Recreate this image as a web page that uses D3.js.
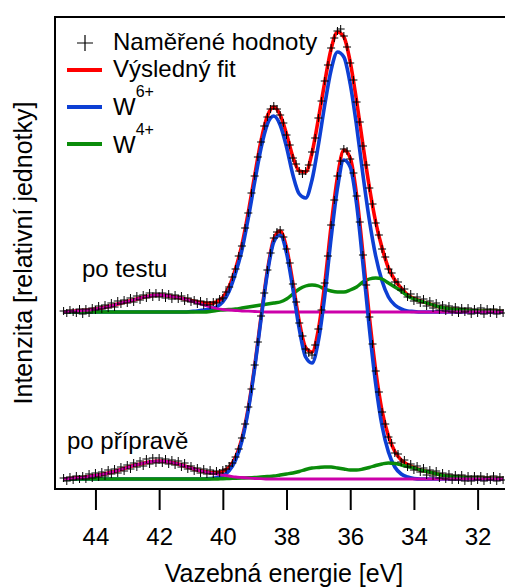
<!DOCTYPE html>
<html><head><meta charset="utf-8">
<script src="https://cdn.jsdelivr.net/npm/d3@7"></script>
<style>
body{margin:0;background:#fff}
svg{display:block}
text{font-family:"Liberation Sans",Arial,sans-serif;fill:#000}
</style>
</head><body>
<svg id="chart" width="505" height="587"></svg>
<script>
// ---------- DATA ----------
// Binding energy grid for the fitted curves (eV)
const lineEnergy = [
 45.0,44.8,44.6,44.4,44.2,44.0,43.8,43.6,43.4,43.2,
 43.0,42.8,42.6,42.4,42.2,42.0,41.8,41.6,41.4,41.2,
 41.0,40.8,40.6,40.4,40.2,40.0,39.8,39.6,39.4,39.2,
 39.0,38.8,38.6,38.4,38.2,38.0,37.8,37.6,37.4,37.2,
 37.0,36.8,36.6,36.4,36.2,36.0,35.8,35.6,35.4,35.2,
 35.0,34.8,34.6,34.4,34.2,34.0,33.8,33.6,33.4,33.2,
 33.0,32.8,32.6,32.4,32.2,32.0,31.8,31.6,31.4,31.2];

// Measured energies (eV)
const dataEnergy = [
 45.0,44.9,44.8,44.7,44.6,44.5,44.4,44.3,44.2,44.1,
 44.0,43.9,43.8,43.7,43.6,43.5,43.4,43.3,43.2,43.1,
 43.0,42.9,42.8,42.7,42.6,42.5,42.4,42.3,42.2,42.1,
 42.0,41.9,41.8,41.7,41.6,41.5,41.4,41.3,41.2,41.1,
 41.0,40.9,40.8,40.7,40.6,40.5,40.4,40.3,40.2,40.1,
 40.0,39.9,39.8,39.7,39.6,39.5,39.4,39.3,39.2,39.1,
 39.0,38.9,38.8,38.7,38.6,38.5,38.4,38.3,38.2,38.1,
 38.0,37.9,37.8,37.7,37.6,37.5,37.4,37.3,37.2,37.1,
 37.0,36.9,36.8,36.7,36.6,36.5,36.4,36.3,36.2,36.1,
 36.0,35.9,35.8,35.7,35.6,35.5,35.4,35.3,35.2,35.1,
 35.0,34.9,34.8,34.7,34.6,34.5,34.4,34.3,34.2,34.1,
 34.0,33.9,33.8,33.7,33.6,33.5,33.4,33.3,33.2,33.1,
 33.0,32.9,32.8,32.7,32.6,32.5,32.4,32.3,32.2,32.1,
 32.0,31.9,31.8,31.7,31.6,31.5,31.4,31.3,31.2];

// Background levels (relative units) of the two stacked spectra
const testBackground = 177;   // "po testu"
const prepBackground = 10;    // "po přípravě"

// ---- "po testu" (net intensity above background) ----
const testMeasured = [
 1,-1,2,0,-1,3,-2,3,-1,4,
 2,6,3,7,4,9,5,11,8,12,
 9,14,10,16,12,17,14,19,15,19,
 15,19,14,18,13,17,13,16,11,14,
 10,12,8,11,7,10,7,10,9,13,
 14,20,25,35,43,56,66,84,99,119,
 136,155,170,186,195,203,206,203,197,189,
 177,167,154,148,141,138,141,147,160,174,
 194,211,231,247,264,274,281,283,276,265,
 249,232,210,190,166,147,124,108,89,77,
 63,55,43,39,30,30,22,23,15,18,
 11,15,9,13,6,11,4,9,2,7,
 1,6,0,5,-1,4,0,4,-2,3,
 -1,4,-2,3,-1,3,-2,2,-1];
const testFit = [
 0,0.5,1,1.5,2,3,4,5.5,7,9,
 10.5,12,14,15.5,16.5,17,16.5,15.5,14.5,13,
 11.5,10,9,8.5,10,14.5,25.5,43.5,67,99.8,
 136.5,171.3,196,205,197,178,155,141,140,159,
 193,230,263,280,275,250,211,167,125,90,
 64,44,32,24,17,13.5,11,9,7,5,
 4,3,2.5,2,1.5,1.2,1,1,0.8,0.5];
const testW6 = [
 0,0,0,0,0,0,0,0,0,0,
 0,0,0,0,0,0,0,0,0,0,
 0.5,1,2,3,5,10,21,39,62,94,
 130,164,188,196,187,165,137,118,114,132,
 167,207,242,260,255,228,186,137,92,56,
 31,15,7,3,1,0.5,0,0,0,0,
 0,0,0,0,0,0,0,0,0,0];
const testW4 = [
 0,0,0,0,0,0,0,0,0,0,
 0,0,0,0,0,0,0,0,0,0,
 0,0,0,0.5,1.5,2,2.5,3,4,5,
 6,7,8,9,10,13,18,23,26,27,
 26,23,21,20,20,22,25,30,33,34,
 33,29,25,21,16,13,11,9,7,5,
 4,3,2.5,2,1.5,1.2,1,1,0.8,0.5];
const testSatellite = [
 0,0.5,1,1.5,2,3,4,5.5,7,9,
 10.5,12,14,15.5,16.5,17,16.5,15.5,14.5,13,
 11,9,7,5,3.5,2.5,2,1.5,1,0.8,
 0.5,0.3,0,0,0,0,0,0,0,0,
 0,0,0,0,0,0,0,0,0,0,
 0,0,0,0,0,0,0,0,0,0,
 0,0,0,0,0,0,0,0,0,0];

// ---- "po přípravě" (net intensity above background) ----
const prepMeasured = [
 1,-2,2,-1,3,0,3,0,5,1,
 6,2,7,3,9,5,10,6,12,8,
 14,10,16,12,18,13,20,15,21,16,
 21,16,20,15,19,14,18,12,16,10,
 13,8,11,6,10,5,9,5,8,6,
 9,10,13,16,22,30,41,55,72,90,
 114,137,163,186,209,226,241,247,249,242,
 230,216,195,177,156,143,130,126,124,134,
 150,169,196,223,254,279,303,318,330,328,
 320,306,283,257,224,194,162,135,108,87,
 67,55,42,36,26,25,17,19,12,15,
 9,13,7,11,4,9,3,8,1,6,
 0,5,-1,4,-1,4,-2,3,-2,3,
 -1,3,-2,2,-1,3,-2,2,-1];
const prepFit = [
 0,0.5,1,1.5,2.5,3.5,4.5,6,7.5,9.5,
 11.5,13.5,15,16.5,17.5,18,17.5,16.5,15,13,
 11,9,7.5,6.4,6.2,7.6,11.9,21.8,40.5,71.2,
 113,162.3,208.5,240,248,231,196,157.5,131.5,127,
 149.5,195,253,302,329,321,284,225,162.5,108.5,
 68,43,27.5,19,14.5,11.5,9,7.5,6,4.5,
 3,2.5,2,1.5,1,1,0.8,0.6,0.5,0.5];
const prepW6 = [
 0,0,0,0,0,0,0,0,0,0,
 0,0,0,0,0,0,0,0,0,0,
 0,0,0,0.4,1.2,3.3,8.4,19,38,69,
 111,160,206,237,244,226,190,150,122,116,
 138,183,241,291,319,312,275,215,151,95,
 53,27,12,5,2,0.5,0,0,0,0,
 0,0,0,0,0,0,0,0,0,0];
const prepW4 = [
 0,0,0,0,0,0,0,0,0,0,
 0,0,0,0,0,0,0,0,0,0,
 0,0,0,0,0,0.3,0.5,0.8,1,1.2,
 1.5,2,2.5,3,4,5,6,7.5,9.5,11,
 11.5,12,12,11,10,9,9,10,11.5,13.5,
 15,16,15.5,14,12.5,11,9,7.5,6,4.5,
 3,2.5,2,1.5,1,1,0.8,0.6,0.5,0.5];
const prepSatellite = [
 0,0.5,1,1.5,2.5,3.5,4.5,6,7.5,9.5,
 11.5,13.5,15,16.5,17.5,18,17.5,16.5,15,13,
 11,9,7.5,6,5,4,3,2,1.5,1,
 0.5,0.3,0,0,0,0,0,0,0,0,
 0,0,0,0,0,0,0,0,0,0,
 0,0,0,0,0,0,0,0,0,0,
 0,0,0,0,0,0,0,0,0,0];

const xTicks = [44,42,40,38,36,34,32];
const legendLabels = ["Naměřené hodnoty","Výsledný fit","W","W"];
const legendSup = ["","","6+","4+"];
const spectrumLabels = ["po testu","po přípravě"];
const xTitle = "Vazebná energie [eV]";
const yTitle = "Intenzita [relativní jednotky]";

// ---------- CHART ----------
const svg = d3.select("#chart");
const L = 55, R = 505, T = 17, B = 489;
const x = d3.scaleLinear().domain([45.27, 31.14]).range([L, R]);
const y = d3.scaleLinear().domain([0, 472]).range([B, T]);

const COL = {fit:"#ff0000", w6:"#0d3fd4", w4:"#0a8c0a", sat:"#cc00aa"};

svg.append("defs").append("clipPath").attr("id","plotclip")
  .append("rect").attr("x",L).attr("y",T).attr("width",R-L).attr("height",B-T);

const plot = svg.append("g").attr("clip-path","url(#plotclip)");

const spectra = [
  {bg:testBackground, meas:testMeasured, fit:testFit, w6:testW6, w4:testW4, sat:testSatellite},
  {bg:prepBackground, meas:prepMeasured, fit:prepFit, w6:prepW6, w4:prepW4, sat:prepSatellite}
];

const lineGen = (bg) => d3.line()
  .x(d => x(d[0])).y(d => y(d[1] + bg))
  .curve(d3.curveMonotoneX);

const series = [
  {key:"fit", w:3.6},
  {key:"w6", w:3.6},
  {key:"w4", w:3.4},
  {key:"sat", w:2.8}
];

spectra.forEach(s => {
  series.forEach(se => {
    const pts = lineEnergy.map((e,i) => [e, s[se.key][i]]);
    plot.append("path").datum(pts)
      .attr("d", lineGen(s.bg))
      .attr("fill","none")
      .attr("stroke", COL[se.key])
      .attr("stroke-width", se.w)
      .attr("stroke-linejoin","round");
  });
});

spectra.forEach(s => {
  plot.append("g").selectAll("path")
    .data(dataEnergy.map((e,i) => [e, s.meas[i]]))
    .join("path")
    .attr("transform", d => `translate(${x(d[0])},${y(d[1] + s.bg)})`)
    .attr("d","M-4,0H4M0,-4V4")
    .attr("stroke","#000").attr("stroke-width",1).attr("fill","none");
});

// Frame
svg.append("line").attr("x1",L).attr("x2",R).attr("y1",T).attr("y2",T)
  .attr("stroke","#000").attr("stroke-width",2);
svg.append("line").attr("x1",L).attr("x2",L).attr("y1",T-1).attr("y2",B+1)
  .attr("stroke","#000").attr("stroke-width",2);
svg.append("line").attr("x1",L-1).attr("x2",R).attr("y1",B).attr("y2",B)
  .attr("stroke","#000").attr("stroke-width",2);

// X axis
const xAxis = svg.append("g").attr("transform",`translate(0,${B+1})`)
  .call(d3.axisBottom(x).tickValues(xTicks).tickSize(20).tickPadding(18)
        .tickFormat(d3.format("d")));
xAxis.select(".domain").remove();
xAxis.selectAll(".tick line").attr("stroke","#000").attr("stroke-width",2);
xAxis.selectAll(".tick text").attr("font-size",24)
  .attr("font-family",'"Liberation Sans",Arial,sans-serif').attr("fill","#000");

// Axis titles
svg.append("text").attr("x",284).attr("y",582).attr("text-anchor","middle")
  .attr("font-size",25).text(xTitle);
svg.append("text").attr("transform","translate(32,253) rotate(-90)")
  .attr("text-anchor","middle").attr("font-size",25).text(yTitle);

// Spectrum labels
svg.append("text").attr("x",82).attr("y",277).attr("font-size",24).text(spectrumLabels[0]);
svg.append("text").attr("x",67).attr("y",449).attr("font-size",24).text(spectrumLabels[1]);

// Legend
const lg = svg.append("g");
lg.append("path").attr("transform","translate(85,43)").attr("d","M-8,0H8M0,-8V8")
  .attr("stroke","#000").attr("stroke-width",1.2);
const legendRows = [
  {yl:43, yt:50, col:null},
  {yl:70, yt:77, col:COL.fit},
  {yl:107, yt:115, col:COL.w6},
  {yl:144, yt:153, col:COL.w4}
];
legendRows.forEach((r,i) => {
  if (r.col) lg.append("line").attr("x1",67).attr("x2",102).attr("y1",r.yl).attr("y2",r.yl)
      .attr("stroke",r.col).attr("stroke-width",4);
  const t = lg.append("text").attr("x",113).attr("y",r.yt).attr("font-size",24).text(legendLabels[i]);
  if (legendSup[i]) t.append("tspan").attr("font-size",16).attr("dy",-18).text(legendSup[i]);
});
</script>
</body></html>
